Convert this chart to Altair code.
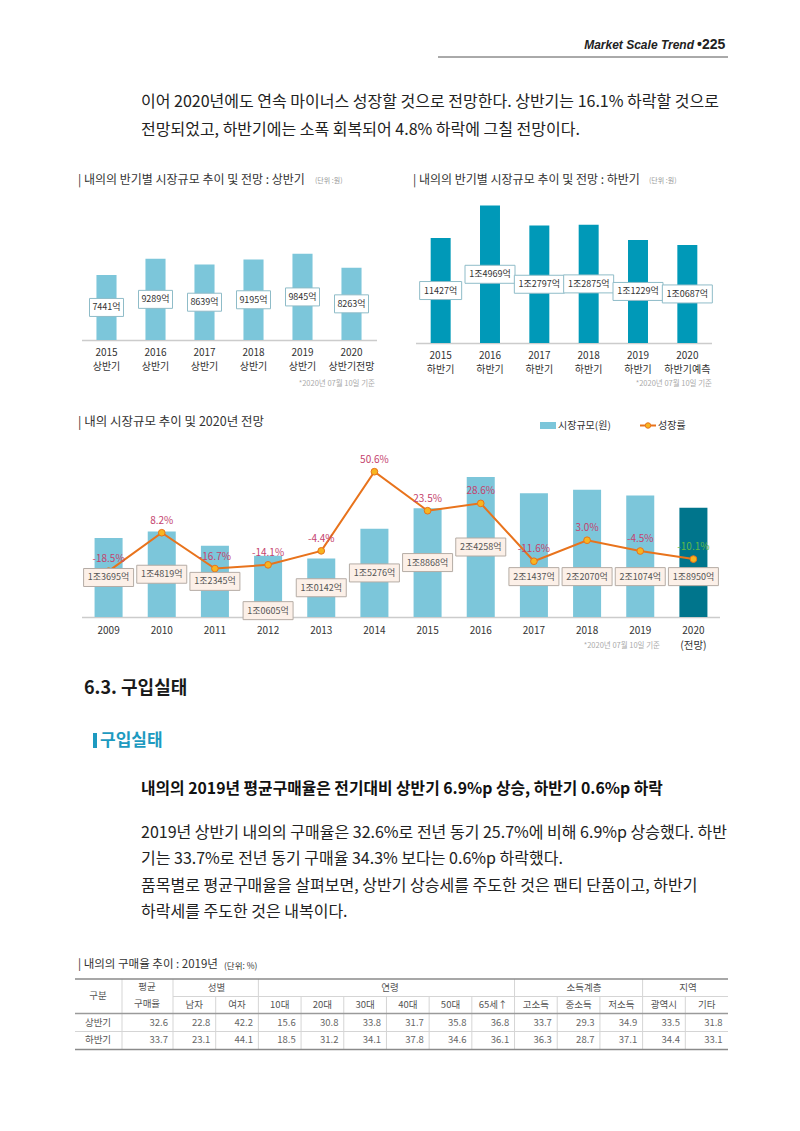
import altair as alt
import pandas as pd

FONT = "Noto Sans CJK KR"

# ---------------- data ----------------
h1_years = ["2015", "2016", "2017", "2018", "2019", "2020"]
h1_periods = ["상반기", "상반기", "상반기", "상반기", "상반기", "상반기전망"]
h1_values = [7441, 9289, 8639, 9195, 9845, 8263]
h1_labels = ["7441억", "9289억", "8639억", "9195억", "9845억", "8263억"]

h2_years = ["2015", "2016", "2017", "2018", "2019", "2020"]
h2_periods = ["하반기", "하반기", "하반기", "하반기", "하반기", "하반기예측"]
h2_values = [11427, 14969, 12797, 12875, 11229, 10687]
h2_labels = ["11427억", "1조4969억", "1조2797억", "1조2875억", "1조1229억", "1조0687억"]

y_years = ["2009", "2010", "2011", "2012", "2013", "2014",
           "2015", "2016", "2017", "2018", "2019", "2020"]
y_notes = ["", "", "", "", "", "", "", "", "", "", "", "(전망)"]
y_values = [13695, 14819, 12345, 10605, 10142, 15276,
            18868, 24258, 21437, 22070, 21074, 18950]
y_labels = ["1조3695억", "1조4819억", "1조2345억", "1조0605억", "1조0142억", "1조5276억",
            "1조8868억", "2조4258억", "2조1437억", "2조2070억", "2조1074억", "1조8950억"]
y_growth = [-18.5, 8.2, -16.7, -14.1, -4.4, 50.6, 23.5, 28.6, -11.6, 3.0, -4.5, -10.1]

t_cols = ["남자", "여자", "10대", "20대", "30대", "40대", "50대", "65세↑",
          "고소득", "중소득", "저소득", "광역시", "기타"]
t_groups = ["성별", "성별", "연령", "연령", "연령", "연령", "연령", "연령",
            "소득계층", "소득계층", "소득계층", "지역", "지역"]
t_rows = ["상반기", "하반기"]
t_avg = [32.6, 33.7]
t_h1 = [22.8, 42.2, 15.6, 30.8, 33.8, 31.7, 35.8, 36.8, 33.7, 29.3, 34.9, 33.5, 31.8]
t_h2 = [23.1, 44.1, 18.5, 31.2, 34.1, 37.8, 34.6, 36.1, 36.3, 28.7, 37.1, 34.4, 33.1]

# ---------------- helpers ----------------
def txt(s, x, y, size=10, color="#333333", weight="normal", align="left",
        style="normal", font=FONT):
    return alt.Chart(pd.DataFrame({"t": [s]})).mark_text(
        align=align, baseline="middle", fontSize=size, color=color,
        fontWeight=weight, fontStyle=style, font=font
    ).encode(x=alt.value(x), y=alt.value(y), text="t:N")


def hline(x1, x2, y, color="#bbbbbb", w=1.0):
    return alt.Chart(pd.DataFrame({"a": [0]})).mark_rule(
        color=color, strokeWidth=w
    ).encode(x=alt.value(x1), x2=alt.value(x2), y=alt.value(y))


def vline(x, y1, y2, color="#cccccc", w=1.0):
    return alt.Chart(pd.DataFrame({"a": [0]})).mark_rule(
        color=color, strokeWidth=w
    ).encode(x=alt.value(x), y=alt.value(y1), y2=alt.value(y2))


# label box: width bw px, height 18 px (symbol path scaled by bw/2)
BOX_PATH = ("'M-1,-' + (18 / datum.bw) + 'L1,-' + (18 / datum.bw) + 'L1,' + "
            "(18 / datum.bw) + 'L-1,' + (18 / datum.bw) + 'Z'")


def boxed(base, ly_expr):
    return (base.transform_calculate(ly=ly_expr, bw="8 * length(datum.label) - 6")
                .transform_calculate(bsz="datum.bw * datum.bw", bpath=BOX_PATH))


LBL = 9


def half_chart(years, periods, values, labels, xr, pin, ydom, yr,
               bar_color, box_stroke, y_year, y_period):
    df = pd.DataFrame({"year": years, "period": periods,
                       "value": values, "label": labels})
    X = alt.X("year:N", axis=None,
              scale=alt.Scale(domain=years, range=xr,
                              paddingInner=pin, paddingOuter=pin / 2))
    ysc = alt.Scale(domain=ydom, range=yr)
    base = alt.Chart(df)
    bars = base.mark_bar(color=bar_color).encode(
        x=X, y=alt.Y("value:Q", scale=ysc, axis=None))
    bb = boxed(base, "datum.value / 2")
    boxes = bb.mark_point(filled=True, fill="white", stroke=box_stroke,
                          strokeWidth=1, opacity=1).encode(
        x=X, y=alt.Y("ly:Q", scale=ysc, axis=None),
        size=alt.Size("bsz:Q", scale=None),
        shape=alt.Shape("bpath:N", scale=None))
    btext = bb.mark_text(font=FONT, fontSize=LBL, color="#333333",
                         baseline="middle").encode(
        x=X, y=alt.Y("ly:Q", scale=ysc, axis=None), text="label:N")
    ytext = base.mark_text(font=FONT, fontSize=10, color="#333333",
                           baseline="middle").encode(
        x=X, y=alt.value(y_year), text="year:N")
    ptext = base.mark_text(font=FONT, fontSize=10, color="#333333",
                           baseline="middle").encode(
        x=X, y=alt.value(y_period), text="period:N")
    return [bars, boxes, btext, ytext, ptext]


layers = []

# ---------------- page header ----------------
layers.append(txt("Market Scale Trend", 694, 45, size=12, color="#222222",
                  weight="bold", style="italic", align="right",
                  font="Liberation Sans"))
layers.append(txt("•225", 697, 45, size=14, color="#222222", weight="bold",
                  font="Liberation Sans"))
layers.append(hline(438, 728, 57, color="#555555", w=1))

BODY = "#222222"
BODY_SIZE = 16
layers.append(txt("이어 2020년에도 연속 마이너스 성장할 것으로 전망한다. 상반기는 16.1% 하락할 것으로",
                  141, 102, size=BODY_SIZE, color=BODY))
layers.append(txt("전망되었고, 하반기에는 소폭 회복되어 4.8% 하락에 그칠 전망이다.",
                  141, 130, size=BODY_SIZE, color=BODY))

# ---------------- chart 1 (상반기) ----------------
layers.append(txt("| 내의의 반기별 시장규모 추이 및 전망 : 상반기", 78, 180, size=12, color="#333333"))
layers.append(txt("(단위 :원)", 315, 181, size=7, color="#999999"))
layers.append(hline(82, 377, 340.5, color="#cccccc", w=1.5))
layers += half_chart(h1_years, h1_periods, h1_values, h1_labels,
                     [82, 376], 0.59, [0, 12000], [340, 235],
                     "#7cc6da", "#8fbcc8", 353, 367)
layers.append(txt("*2020년 07월 10일 기준", 375, 384, size=7.5, color="#aaaaaa", align="right"))

# ---------------- chart 2 (하반기) ----------------
layers.append(txt("| 내의의 반기별 시장규모 추이 및 전망 : 하반기", 413, 180, size=12, color="#333333"))
layers.append(txt("(단위 :원)", 649, 181, size=7, color="#999999"))
layers.append(hline(416, 712, 343.5, color="#cccccc", w=1.5))
layers += half_chart(h2_years, h2_periods, h2_values, h2_labels,
                     [416, 712], 0.595, [0, 16000], [343, 196.1],
                     "#0099b8", "#8fbcc8", 356, 370)
layers.append(txt("*2020년 07월 10일 기준", 712, 384, size=7.5, color="#aaaaaa", align="right"))

# ---------------- chart 3 (연도별) ----------------
layers.append(txt("| 내의 시장규모 추이 및 2020년 전망", 78, 422, size=12.5, color="#333333"))
# legend
layers.append(alt.Chart(pd.DataFrame({"a": [0]})).mark_rect(color="#7cc6da").encode(
    x=alt.value(540), x2=alt.value(556), y=alt.value(422), y2=alt.value(429)))
layers.append(txt("시장규모(원)", 558, 425.5, size=10, color="#333333"))
layers.append(hline(640, 656, 425.5, color="#e8731c", w=2))
layers.append(alt.Chart(pd.DataFrame({"a": [0]})).mark_point(
    filled=True, fill="#f7b520", stroke="#e8731c", strokeWidth=1, size=30, opacity=1
).encode(x=alt.value(648), y=alt.value(425.5)))
layers.append(txt("성장률", 658, 425.5, size=10, color="#333333"))

df3 = pd.DataFrame({"year": y_years, "note": y_notes, "value": y_values,
                    "label": y_labels, "growth": y_growth})
X3 = alt.X("year:N", axis=None,
           scale=alt.Scale(domain=y_years, range=[82, 720],
                           paddingInner=0.473, paddingOuter=0.2365))
ysc3 = alt.Scale(domain=[0, 30000], range=[617, 443.9])
gsc = alt.Scale(domain=[-50, 70], range=[616.5, 443.8])
base3 = alt.Chart(df3)

layers.append(hline(82, 720, 617.5, color="#cccccc", w=1.5))
layers.append(base3.mark_bar().encode(
    x=X3, y=alt.Y("value:Q", scale=ysc3, axis=None),
    color=alt.condition(alt.datum.year == "2020", alt.value("#00758c"), alt.value("#7cc6da"))))
layers.append(base3.mark_line(color="#e8731c", strokeWidth=2).encode(
    x=X3, y=alt.Y("growth:Q", scale=gsc, axis=None)))
layers.append(base3.mark_point(filled=True, fill="#f7b520", stroke="#e8731c",
                               strokeWidth=1, size=45, opacity=1).encode(
    x=X3, y=alt.Y("growth:Q", scale=gsc, axis=None)))
bb3 = boxed(base3, "toNumber(datum.year) >= 2017 ? 7000 : "
                   "(datum.year == '2012' ? 1100 : datum.value / 2)")
layers.append(bb3.mark_point(filled=True, fill="#fcf0e8", stroke="#b5aca5",
                             strokeWidth=1, opacity=1).encode(
    x=X3, y=alt.Y("ly:Q", scale=ysc3, axis=None),
    size=alt.Size("bsz:Q", scale=None), shape=alt.Shape("bpath:N", scale=None)))
layers.append(bb3.mark_text(font=FONT, fontSize=LBL, color="#555555", baseline="middle").encode(
    x=X3, y=alt.Y("ly:Q", scale=ysc3, axis=None), text="label:N"))
layers.append(base3.transform_calculate(
    gl="replace(format(datum.growth, '.1f'), '\u2212', '-') + '%'"
).mark_text(font=FONT, fontSize=10, dy=-12, baseline="middle").encode(
    x=X3, y=alt.Y("growth:Q", scale=gsc, axis=None), text="gl:N",
    color=alt.condition(alt.datum.year == "2020", alt.value("#5fb84a"), alt.value("#c4436e"))))
layers.append(base3.mark_text(font=FONT, fontSize=10, color="#333333", baseline="middle").encode(
    x=X3, y=alt.value(631), text="year:N"))
layers.append(base3.mark_text(font=FONT, fontSize=10.5, color="#333333", baseline="middle").encode(
    x=X3, y=alt.value(646), text="note:N"))
layers.append(txt("*2020년 07월 10일 기준", 660, 646, size=7.5, color="#aaaaaa", align="right"))

# ---------------- section text ----------------
layers.append(txt("6.3. 구입실태", 84, 689, size=18, color="#1a1a1a", weight="bold"))
layers.append(alt.Chart(pd.DataFrame({"a": [0]})).mark_rect(color="#1d9ac0").encode(
    x=alt.value(93), x2=alt.value(97), y=alt.value(733), y2=alt.value(748)))
layers.append(txt("구입실태", 100, 740.5, size=17, color="#1d9ac0", weight="bold"))
layers.append(txt("내의의 2019년 평균구매율은 전기대비 상반기 6.9%p 상승, 하반기 0.6%p 하락",
                  141, 789, size=15.8, color="#111111", weight="bold"))
para = [
    "2019년 상반기 내의의 구매율은 32.6%로 전년 동기 25.7%에 비해 6.9%p 상승했다. 하반",
    "기는 33.7%로 전년 동기 구매율 34.3% 보다는 0.6%p 하락했다.",
    "품목별로 평균구매율을 살펴보면, 상반기 상승세를 주도한 것은 팬티 단품이고, 하반기",
    "하락세를 주도한 것은 내복이다.",
]
for i, line in enumerate(para):
    layers.append(txt(line, 141, [833, 859, 886, 912][i], size=BODY_SIZE, color=BODY))

# ---------------- table ----------------
layers.append(txt("| 내의의 구매율 추이 : 2019년", 78, 965, size=11.5, color="#333333"))
layers.append(txt("(단위: %)", 224, 966, size=8.5, color="#333333"))

TXs = alt.Scale(domain=t_cols, range=[173, 728], paddingInner=0, paddingOuter=0)
TYs = alt.Scale(domain=t_rows, range=[1014, 1049], paddingInner=0, paddingOuter=0)
cdf = pd.DataFrame({"col": t_cols, "grp": t_groups})
cdf["first"] = [i > 0 and t_groups[i] != t_groups[i - 1] for i in range(len(t_cols))]
cdf["inner"] = [i > 0 and t_groups[i] == t_groups[i - 1] for i in range(len(t_cols))]

# vertical grid lines
layers.append(alt.Chart(cdf).transform_filter("datum.inner").mark_rule(
    color="#d5d5d5", strokeWidth=1).encode(
    x=alt.X("col:N", bandPosition=0, scale=TXs, axis=None),
    y=alt.value(996), y2=alt.value(1049)))
layers.append(alt.Chart(cdf).transform_filter("datum.first").mark_rule(
    color="#d5d5d5", strokeWidth=1).encode(
    x=alt.X("col:N", bandPosition=0, scale=TXs, axis=None),
    y=alt.value(979), y2=alt.value(1049)))
layers.append(vline(122, 979, 1049, color="#d5d5d5"))
layers.append(vline(173, 979, 1049, color="#d5d5d5"))
# horizontal lines
layers.append(hline(75, 728, 979, color="#8a8a8a", w=1.5))
layers.append(hline(173, 728, 996.5, color="#d5d5d5", w=1))
layers.append(hline(75, 728, 1013.5, color="#9a9a9a", w=1.5))
layers.append(hline(75, 728, 1031.5, color="#d5d5d5", w=1))
layers.append(hline(75, 728, 1049.5, color="#8a8a8a", w=1.5))

TCOL = "#555555"
layers.append(txt("구분", 98, 996, size=9.5, color=TCOL, align="center"))
layers.append(txt("평균", 147, 987, size=9.5, color=TCOL, align="center"))
layers.append(txt("구매율", 147, 1004, size=9.5, color=TCOL, align="center"))
layers.append(txt("성별", 216.5, 987.5, size=9.5, color=TCOL, align="center"))
layers.append(txt("연령", 390, 987.5, size=9.5, color=TCOL, align="center"))
layers.append(txt("소득계층", 584, 987.5, size=9.5, color=TCOL, align="center"))
layers.append(txt("지역", 688, 987.5, size=9.5, color=TCOL, align="center"))

layers.append(alt.Chart(cdf).mark_text(font=FONT, fontSize=9.5, color=TCOL, baseline="middle").encode(
    x=alt.X("col:N", scale=TXs, axis=None), y=alt.value(1005), text="col:N"))

tdf = pd.DataFrame({
    "row": [r for r in t_rows for _ in t_cols],
    "col": t_cols * 2,
    "v": t_h1 + t_h2,
})
layers.append(alt.Chart(tdf).mark_text(font=FONT, fontSize=9.5, color="#666666",
                                       align="right", dx=16, baseline="middle").encode(
    x=alt.X("col:N", scale=TXs, axis=None),
    y=alt.Y("row:N", scale=TYs, axis=None),
    text=alt.Text("v:Q", format=".1f")))

adf = pd.DataFrame({"row": t_rows, "avg": t_avg})
layers.append(alt.Chart(adf).mark_text(font=FONT, fontSize=9.5, color=TCOL,
                                       align="center", baseline="middle").encode(
    x=alt.value(98), y=alt.Y("row:N", scale=TYs, axis=None), text="row:N"))
layers.append(alt.Chart(adf).mark_text(font=FONT, fontSize=9.5, color="#666666",
                                       align="right", baseline="middle").encode(
    x=alt.value(168), y=alt.Y("row:N", scale=TYs, axis=None),
    text=alt.Text("avg:Q", format=".1f")))

chart = alt.layer(*layers).resolve_scale(
    x="independent", y="independent"
).properties(
    width=800, height=1131,
    autosize=alt.AutoSizeParams(type="none"),
    padding=0, background="white"
).configure_view(stroke=None)

chart.save("out.html", embed_options={"renderer": "svg", "actions": False})
